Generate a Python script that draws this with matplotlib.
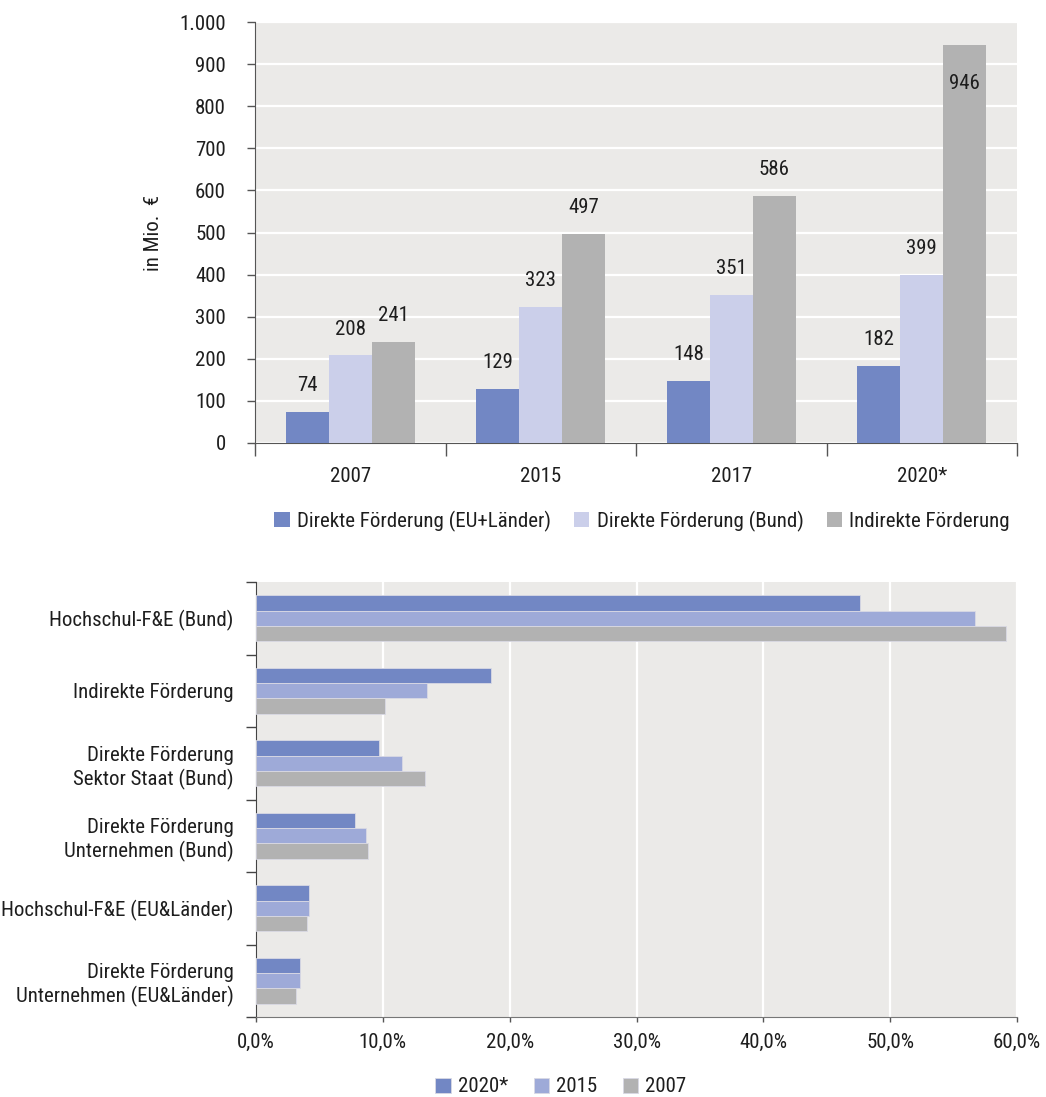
import matplotlib
matplotlib.use("Agg")
import matplotlib.pyplot as plt
from matplotlib import font_manager
import numpy as np

# pick a condensed font if there is one
installed = set(f.name for f in font_manager.fontManager.ttflist)
font_name = "DejaVu Sans"
for cand in ["Roboto Condensed", "Liberation Sans Narrow", "Open Sans Condensed", "Noto Sans Condensed"]:
    if cand in installed:
        font_name = cand
        break
plt.rcParams["font.family"] = [font_name, "DejaVu Sans"]

# data top chart (in Mio. EUR)
years = ["2007", "2015", "2017", "2020*"]
direkt_eu_laender = [74, 129, 148, 182]
direkt_bund = [208, 323, 351, 399]
indirekt = [241, 497, 586, 946]
top_series_names = ["Direkte Förderung (EU+Länder)", "Direkte Förderung (Bund)", "Indirekte Förderung"]

# data bottom chart (share in %)
categories = [
    "Hochschul-F&E (Bund)",
    "Indirekte Förderung",
    "Direkte Förderung\nSektor Staat (Bund)",
    "Direkte Förderung\nUnternehmen (Bund)",
    "Hochschul-F&E (EU&Länder)",
    "Direkte Förderung\nUnternehmen (EU&Länder)",
]
share_2020 = [47.6, 18.5, 9.7, 7.8, 4.2, 3.5]
share_2015 = [56.7, 13.5, 11.5, 8.7, 4.2, 3.5]
share_2007 = [59.1, 10.2, 13.3, 8.85, 4.0, 3.15]
bottom_series_names = ["2020*", "2015", "2007"]

BLUE = "#7287c4"
LIGHT_TOP = "#cbcfea"
LIGHT_BOT = "#9eaad8"
GREY = "#b2b2b2"
BG = "#ebeae8"
TXT = "#1e1e1e"
FS = 15

W, H = 1046, 1097
fig = plt.figure(figsize=(W / 100, H / 100), dpi=100)

# ---------- top chart ----------
ax1 = fig.add_axes([255 / W, 1 - 443 / H, 762 / W, 421 / H])
ax1.set_facecolor(BG)
x = np.arange(len(years))
bw = 0.225
colors_top = [BLUE, LIGHT_TOP, GREY]
top_data = [direkt_eu_laender, direkt_bund, indirekt]
top_bars = []
for k, (vals, col) in enumerate(zip(top_data, colors_top)):
    b = ax1.bar(x + (k - 1) * bw, vals, bw, color=col, zorder=3, linewidth=0)
    top_bars.append(b)
    for xi, v in zip(x + (k - 1) * bw, vals):
        # the tallest bar gets its label inside
        if v > 900:
            ax1.annotate(str(v), (xi, v), xytext=(0, -28), textcoords="offset points",
                         ha="center", va="center", fontsize=FS, color=TXT, zorder=4)
        else:
            ax1.annotate(str(v), (xi, v), xytext=(0, 19), textcoords="offset points",
                         ha="center", va="center", fontsize=FS, color=TXT, zorder=4)

ax1.set_xlim(-0.5, len(years) - 0.5)
ax1.set_ylim(0, 1000)
yt = np.arange(0, 1001, 100)
ax1.set_yticks(yt)
ax1.set_yticklabels([f"{v:,}".replace(",", ".") for v in yt])
ax1.yaxis.grid(True, color="white", linewidth=1.6, zorder=1)
ax1.set_axisbelow(True)
ax1.set_xticks(np.arange(-0.5, len(years), 1.0))
ax1.set_xticklabels([])
ax1.set_xticks(x, minor=True)
ax1.set_xticklabels(years, minor=True)
ax1.tick_params(axis="x", which="major", length=9.5, width=1, color="#555555")
ax1.tick_params(axis="x", which="minor", length=0, pad=17, labelsize=FS, labelcolor=TXT)
ax1.tick_params(axis="y", length=6, width=1, color="#555555", pad=15, labelsize=FS, labelcolor=TXT)
for s in ["top", "right"]:
    ax1.spines[s].set_visible(False)
ax1.spines["left"].set_color("#555555")
ax1.spines["bottom"].set_color("#555555")
ax1.set_ylabel("in Mio.  €", fontsize=FS, color=TXT, labelpad=12)

fig.legend(top_bars, top_series_names, loc="center", bbox_to_anchor=(642 / W, 1 - 521 / H),
           ncol=3, frameon=False, fontsize=FS, handlelength=0.75, handleheight=0.75,
           handletextpad=0.35, columnspacing=1.1, labelcolor=TXT)

# ---------- bottom chart ----------
ax2 = fig.add_axes([256 / W, 1 - 1017 / H, 761 / W, 435 / H])
ax2.set_facecolor(BG)
y = np.arange(len(categories))
bh = 0.21
colors_bot = [BLUE, LIGHT_BOT, GREY]
bot_data = [share_2020, share_2015, share_2007]
bot_bars = []
for k, (vals, col) in enumerate(zip(bot_data, colors_bot)):
    b = ax2.barh(y + (k - 1) * bh, vals, bh, color=col, zorder=3,
                 edgecolor="#d9d9e4", linewidth=0.6)
    bot_bars.append(b)

ax2.set_ylim(len(categories) - 0.5, -0.5)
ax2.set_xlim(0, 60)
xt = np.arange(0, 61, 10)
ax2.set_xticks(xt)
ax2.set_xticklabels([f"{v:.1f}%".replace(".", ",") for v in xt])
ax2.xaxis.grid(True, color="white", linewidth=1.6, zorder=1)
ax2.set_axisbelow(True)
ax2.set_yticks(np.arange(-0.5, len(categories), 1.0))
ax2.set_yticklabels([])
ax2.set_yticks(y, minor=True)
ax2.set_yticklabels(categories, minor=True, linespacing=1.25)
ax2.tick_params(axis="y", which="major", length=7, width=1, color="#444444")
ax2.tick_params(axis="y", which="minor", length=0, pad=16, labelsize=FS, labelcolor=TXT)
ax2.tick_params(axis="x", length=3.6, width=1, color="#555555", pad=8, labelsize=FS, labelcolor=TXT)
for s in ["top", "right"]:
    ax2.spines[s].set_visible(False)
ax2.spines["left"].set_color("#444444")
ax2.spines["bottom"].set_color("#777777")

fig.legend(bot_bars, bottom_series_names, loc="center", bbox_to_anchor=(561 / W, 1 - 1087 / H),
           ncol=3, frameon=False, fontsize=FS, handlelength=0.75, handleheight=0.75,
           handletextpad=0.35, columnspacing=1.2, labelcolor=TXT)

fig.savefig("out.png", dpi=100, facecolor="white")
